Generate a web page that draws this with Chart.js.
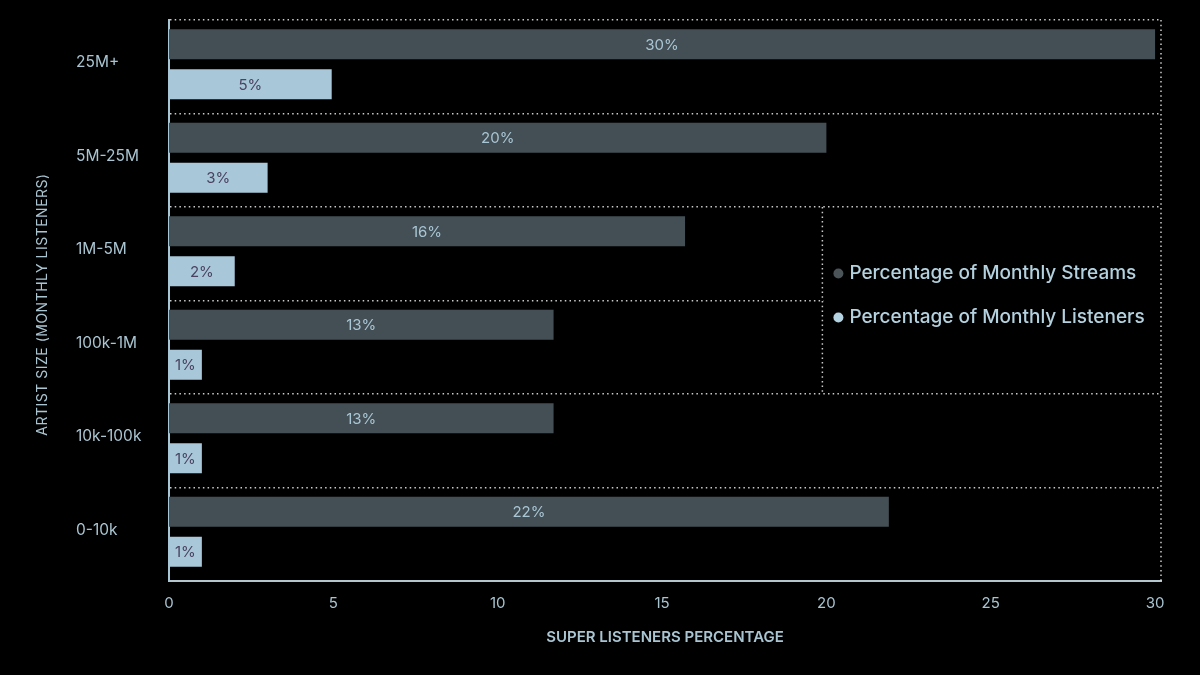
<!DOCTYPE html>
<html>
<head>
<meta charset="utf-8">
<script src="https://cdn.jsdelivr.net/npm/chart.js@4/dist/chart.umd.min.js"></script>
<style>
  html, body { margin: 0; padding: 0; background: #000; }
  #wrap { width: 1200px; height: 675px; position: relative; }
</style>
</head>
<body>
<div id="wrap"><canvas id="c" width="1200" height="675"></canvas></div>
<script>
const categories = ['25M+', '5M-25M', '1M-5M', '100k-1M', '10k-100k', '0-10k'];
const seriesNames = ['Percentage of Monthly Streams', 'Percentage of Monthly Listeners'];
const streamsValues = [30, 20, 15.7, 11.7, 11.7, 21.9];
const listenersValues = [4.95, 3, 2, 1, 1, 1];
const streamsLabels = ['30%', '20%', '16%', '13%', '13%', '22%'];
const listenersLabels = ['5%', '3%', '2%', '1%', '1%', '1%'];
const xTicks = [0, 5, 10, 15, 20, 25, 30];
const xTitle = 'SUPER LISTENERS PERCENTAGE';
const yTitle = 'ARTIST SIZE (MONTHLY LISTENERS)';

const FONT = 'Inter, "Noto Sans", sans-serif';
const TEXT = '#a9c5d2';
const STREAM_COLOR = '#434f55';
const LISTEN_COLOR = '#a8c7d9';
const DOT = 'rgba(220,220,220,0.92)';
const DASH = [1.5, 3.2];
const BAR_SHIFT = -2.5;

function dotted(ctx, x1, y1, x2, y2) {
  ctx.save();
  ctx.strokeStyle = DOT;
  ctx.lineWidth = 1.5;
  ctx.setLineDash(DASH);
  ctx.beginPath();
  ctx.moveTo(x1, y1);
  ctx.lineTo(x2, y2);
  ctx.stroke();
  ctx.restore();
}

const framePlugin = {
  id: 'frame',
  beforeDatasetsDraw(chart) {
    const {ctx, chartArea: a, scales: {x, y}} = chart;
    dotted(ctx, a.right, a.top, a.right, a.bottom);
    const boxLeft = x.getPixelForValue(20) - 4;
    const boxTop = (y.getPixelForValue(1) + y.getPixelForValue(2)) / 2;
    const boxBottom = (y.getPixelForValue(3) + y.getPixelForValue(4)) / 2;
    ctx.save();
    ctx.fillStyle = '#000';
    ctx.fillRect(boxLeft + 1, boxTop + 1.5, a.right - boxLeft - 2, boxBottom - boxTop - 3);
    ctx.restore();
    dotted(ctx, boxLeft, boxTop, boxLeft, boxBottom);
    const midY = (boxTop + boxBottom) / 2;
    const items = [
      {label: chart.data.datasets[0].label, color: '#4b5459', y: midY - 27},
      {label: chart.data.datasets[1].label, color: '#b3d3e3', y: midY + 17}
    ];
    ctx.save();
    ctx.font = '500 19px ' + FONT;
    ctx.textBaseline = 'middle';
    ctx.textAlign = 'left';
    items.forEach(it => {
      ctx.fillStyle = it.color;
      ctx.beginPath();
      ctx.arc(boxLeft + 16, it.y, 5, 0, Math.PI * 2);
      ctx.fill();
      ctx.fillStyle = '#b3d1de';
      ctx.fillText(it.label, boxLeft + 27, it.y);
    });
    ctx.restore();
    ctx.save();
    ctx.translate(0, BAR_SHIFT);
  },
  afterDatasetsDraw(chart) {
    const {ctx} = chart;
    ctx.restore();
    const sets = [
      {labels: streamsLabels, color: '#a9c6d4'},
      {labels: listenersLabels, color: '#4a4260'}
    ];
    ctx.save();
    ctx.font = '15px ' + FONT;
    ctx.textAlign = 'center';
    ctx.textBaseline = 'middle';
    sets.forEach((s, di) => {
      const meta = chart.getDatasetMeta(di);
      meta.data.forEach((bar, i) => {
        ctx.fillStyle = s.color;
        ctx.fillText(s.labels[i], (bar.x + bar.base) / 2, bar.y + 1 + BAR_SHIFT);
      });
    });
    ctx.restore();
  },
  afterDraw(chart) {
    const {ctx, chartArea: a} = chart;
    ctx.save();
    ctx.translate(43, (a.top + a.bottom) / 2 + 4);
    ctx.rotate(-Math.PI / 2);
    ctx.font = '14px ' + FONT;
    ctx.fillStyle = TEXT;
    ctx.textAlign = 'center';
    ctx.textBaseline = 'middle';
    if ('letterSpacing' in ctx) ctx.letterSpacing = '0.5px';
    ctx.fillText(yTitle, 0, 0);
    ctx.restore();
  }
};

new Chart(document.getElementById('c'), {
  type: 'bar',
  data: {
    labels: categories,
    datasets: [
      {label: seriesNames[0], data: streamsValues, backgroundColor: STREAM_COLOR,
       barPercentage: 0.75, categoryPercentage: 0.856},
      {label: seriesNames[1], data: listenersValues, backgroundColor: LISTEN_COLOR,
       barPercentage: 0.75, categoryPercentage: 0.856}
    ]
  },
  options: {
    indexAxis: 'y',
    responsive: false,
    animation: false,
    devicePixelRatio: 1,
    layout: {padding: {top: 20, right: 39, left: 76, bottom: 0}},
    plugins: {legend: {display: false}, tooltip: {enabled: false}},
    scales: {
      x: {
        type: 'linear',
        min: 0,
        max: 30.18,
        afterBuildTicks: (s) => { s.ticks = xTicks.map(v => ({value: v})); },
        afterFit: (s) => { s.height = 94; },
        grid: {display: false, drawTicks: false},
        border: {display: true, color: '#b4c6ce', width: 2},
        ticks: {color: TEXT, font: {family: FONT, size: 15}, padding: 13, maxRotation: 0},
        title: {display: true, text: xTitle, color: TEXT,
                font: {family: FONT, size: 15, weight: '600'}, padding: {top: 0, bottom: 29}}
      },
      y: {
        afterFit: (s) => { s.width = 93; },
        grid: {color: DOT, lineWidth: 1.5, drawTicks: false},
        border: {display: true, color: '#a8c7d6', width: 2, dash: DASH},
        ticks: {color: TEXT, font: {family: FONT, size: 15.5}, crossAlign: 'far', padding: 0, labelOffset: -4}
      }
    }
  },
  plugins: [framePlugin]
});
</script>
</body>
</html>
